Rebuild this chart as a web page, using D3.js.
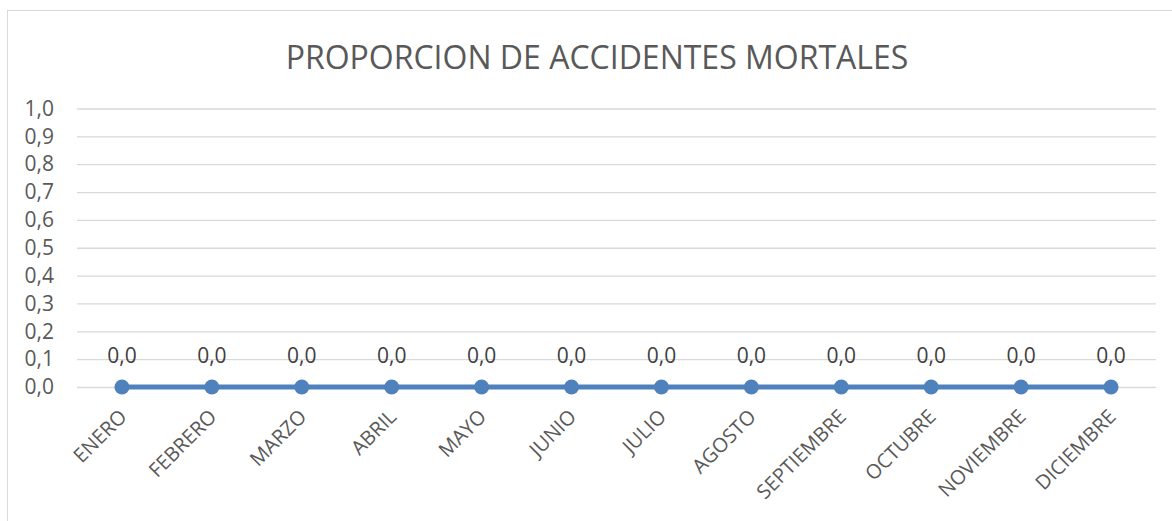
<!DOCTYPE html>
<html>
<head>
<meta charset="utf-8">
<script src="https://cdn.jsdelivr.net/npm/d3@7"></script>
<style>
  body { margin: 0; background: #fff; }
  svg { display: block; font-family: "Open Sans", sans-serif; }
</style>
</head>
<body>
<svg id="chart" width="1172" height="521"></svg>
<script>
// data
const months = ["ENERO", "FEBRERO", "MARZO", "ABRIL", "MAYO", "JUNIO",
                "JULIO", "AGOSTO", "SEPTIEMBRE", "OCTUBRE", "NOVIEMBRE", "DICIEMBRE"];
const proportion = [0, 0, 0, 0, 0, 0, 0, 0, 0, 0, 0, 0];
const yTicks = [0, 0.1, 0.2, 0.3, 0.4, 0.5, 0.6, 0.7, 0.8, 0.9, 1.0];
const title = "PROPORCION DE ACCIDENTES MORTALES";

const TOTAL_WIDTH = 1172, TOTAL_HEIGHT = 521;
const margin = {left: 77, right: 16, top: 108.5, bottom: 134};
const width = TOTAL_WIDTH - margin.left - margin.right;
const height = TOTAL_HEIGHT - margin.top - margin.bottom;
const textColor = "#595959";
const lineColor = "#4f81bd";

const fmt = d => d3.format(".1f")(d).replace(".", ",");

const svg = d3.select("#chart");

// chart area border (runs off the right and bottom edges)
svg.append("rect")
    .attr("x", 7.5).attr("y", 10.5)
    .attr("width", 1180).attr("height", 530)
    .attr("fill", "none")
    .attr("stroke", "#d9d9d9")
    .attr("stroke-width", 1);

svg.append("text")
    .text(title)
    .attr("x", 597)
    .attr("y", 69)
    .attr("text-anchor", "middle")
    .attr("fill", textColor)
    .attr("font-size", 32);

const xScale = d3.scaleBand()
    .domain(months)
    .range([0, width]);

const yScale = d3.scaleLinear()
    .domain([0, 1])
    .range([height, 0]);

const g = svg.append("g")
    .attr("transform", `translate(${margin.left}, ${margin.top})`);

// gridlines + y labels
const yAxis = d3.axisLeft(yScale)
    .tickValues(yTicks)
    .tickSize(-width)
    .tickPadding(23)
    .tickFormat(fmt);
g.append("g")
    .call(yAxis)
    .call(a => a.select(".domain").remove())
    .call(a => a.selectAll("line").attr("stroke", "#d9d9d9").attr("stroke-width", 1.3))
    .call(a => a.selectAll("text")
        .attr("fill", textColor)
        .attr("font-size", 21)
        .attr("font-family", "Open Sans, sans-serif"));

const cx = d => xScale(d) + xScale.bandwidth() / 2;
const pts = months.map((m, i) => ({m, v: proportion[i]}));

g.append("path")
    .datum(pts)
    .attr("fill", "none")
    .attr("stroke", lineColor)
    .attr("stroke-width", 4.8)
    .attr("d", d3.line().x(d => cx(d.m)).y(d => yScale(d.v)));

g.selectAll(".dot")
    .data(pts)
    .join("circle")
    .attr("class", "dot")
    .attr("cx", d => cx(d.m))
    .attr("cy", d => yScale(d.v))
    .attr("r", 7.5)
    .attr("fill", lineColor);

// data labels
g.selectAll(".lbl")
    .data(pts)
    .join("text")
    .attr("class", "lbl")
    .text(d => fmt(d.v))
    .attr("x", d => cx(d.m))
    .attr("y", d => yScale(d.v) - 24)
    .attr("text-anchor", "middle")
    .attr("fill", "#404040")
    .attr("font-size", 21);

// category labels, rotated
g.selectAll(".cat")
    .data(months)
    .join("text")
    .attr("class", "cat")
    .text(d => d)
    .attr("text-anchor", "end")
    .attr("transform", d => `translate(${cx(d) + 6}, ${height + 31}) rotate(-45)`)
    .attr("fill", textColor)
    .attr("font-size", 20);
</script>
</body>
</html>
